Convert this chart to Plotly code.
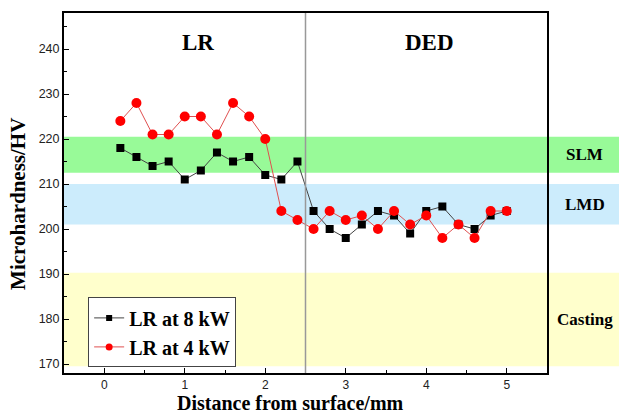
import plotly.graph_objects as go

x_vals = [0.2, 0.4, 0.6, 0.8, 1.0, 1.2, 1.4, 1.6, 1.8, 2.0, 2.2, 2.4,
          2.6, 2.8, 3.0, 3.2, 3.4, 3.6, 3.8, 4.0, 4.2, 4.4, 4.6, 4.8, 5.0]
lr_8kw = [218, 216, 214, 215, 211, 213, 217, 215, 216, 212, 211, 215,
          204, 200, 198, 201, 204, 203, 199, 204, 205, 201, 200, 203, 204]
lr_4kw = [224, 228, 221, 221, 225, 225, 221, 228, 225, 220, 204, 202,
          200, 204, 202, 203, 200, 204, 201, 203, 198, 201, 198, 204, 204]
series_names = ["LR at 8 kW", "LR at 4 kW"]

bands = [  # (name, y0, y1, color)
    ("SLM", 212.5, 220.5, "rgb(152,250,152)"),
    ("LMD", 201, 210, "rgb(204,236,252)"),
    ("Casting", 169.5, 190.3, "rgb(255,255,204)"),
]
band_label_y = {"SLM": 216.5, "LMD": 205.5, "Casting": 179.8}
boundary_x = 2.5
region_labels = [("LR", 1.16, 241.5), ("DED", 4.04, 241.5)]

serif = "Liberation Serif, Times New Roman, serif"
sans = "Liberation Sans, Arial, sans-serif"

styles = [
    dict(line=dict(color="#444444", width=1), sym="square", size=8, lsize=6, mcol="black"),
    dict(line=dict(color="#e05050", width=1), sym="circle", size=10, lsize=7, mcol="red"),
]

fig = go.Figure()
for yv, nm, st in zip([lr_8kw, lr_4kw], series_names, styles):
    fig.add_trace(go.Scatter(
        x=x_vals, y=yv, mode="lines+markers", name=nm, showlegend=False,
        line=st["line"], marker=dict(symbol=st["sym"], size=st["size"], color=st["mcol"]),
    ))
for nm, st in zip(series_names, styles):
    fig.add_trace(go.Scatter(
        x=[None], y=[None], mode="lines+markers", name="<b>%s</b>" % nm,
        line=st["line"], marker=dict(symbol=st["sym"], size=st["lsize"], color=st["mcol"]),
    ))

shapes = []
for name, y0, y1, col in bands:
    shapes.append(dict(type="rect", xref="paper", yref="y", x0=0, x1=1.2,
                       y0=y0, y1=y1, fillcolor=col, line=dict(width=0),
                       layer="below"))
shapes.append(dict(type="line", xref="x", yref="paper", x0=boundary_x, x1=boundary_x,
                   y0=0, y1=1, line=dict(color="#999999", width=1.5)))

annotations = []
for name, y0, y1, col in bands:
    annotations.append(dict(xref="paper", yref="y", x=1.078, y=band_label_y[name],
                            xanchor="center", yanchor="middle",
                            text="<b>%s</b>" % name, showarrow=False,
                            font=dict(family=serif, size=17, color="black")))
for txt, xx, yy in region_labels:
    annotations.append(dict(xref="x", yref="y", x=xx, y=yy, text="<b>%s</b>" % txt,
                            xanchor="center", yanchor="middle",
                            showarrow=False, font=dict(family=serif, size=23, color="black")))
annotations.append(dict(xref="paper", yref="paper", x=0.469, y=-0.083,
                        xanchor="center", yanchor="middle",
                        text="<b>Distance from surface/mm</b>", showarrow=False,
                        font=dict(family=serif, size=20, color="black")))
annotations.append(dict(xref="paper", yref="paper", x=-0.095, y=0.47, textangle=-90,
                        xanchor="center", yanchor="middle",
                        text="<b>Microhardness/HV</b>", showarrow=False,
                        font=dict(family=serif, size=21, color="black")))

fig.update_layout(
    width=619, height=415,
    margin=dict(l=64, r=72, t=13, b=42),
    plot_bgcolor="rgba(0,0,0,0)", paper_bgcolor="white",
    showlegend=True,
    legend=dict(x=0.05, y=0.21, xanchor="left", yanchor="top",
                bgcolor="white", bordercolor="#444444", borderwidth=1,
                font=dict(family=serif, size=20, color="black"),
                tracegroupgap=0, itemwidth=30),
    shapes=shapes, annotations=annotations,
    xaxis=dict(range=[-0.5, 5.5], tickvals=[0, 1, 2, 3, 4, 5],
               ticks="inside", ticklen=5, tickwidth=1.2, tickcolor="black",
               minor=dict(tickvals=[0.5, 1.5, 2.5, 3.5, 4.5], ticks="inside",
                          ticklen=3, tickcolor="black"),
               showline=True, linecolor="black", linewidth=2, mirror=True,
               showgrid=False, zeroline=False,
               tickfont=dict(family=sans, size=12, color="#222222")),
    yaxis=dict(range=[168, 248], tickvals=[170, 180, 190, 200, 210, 220, 230, 240],
               ticks="inside", ticklen=5, tickwidth=1.2, tickcolor="black",
               minor=dict(tickvals=[175, 185, 195, 205, 215, 225, 235, 245],
                          ticks="inside", ticklen=3, tickcolor="black"),
               showline=True, linecolor="black", linewidth=2, mirror=True,
               showgrid=False, zeroline=False,
               tickfont=dict(family=sans, size=12.5, color="#222222")),
)

fig.write_html("out.html")
